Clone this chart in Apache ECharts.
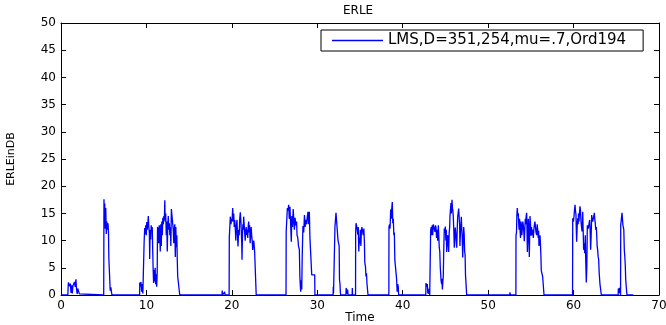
<!DOCTYPE html>
<html><head><meta charset="utf-8">
<script src="https://cdn.jsdelivr.net/npm/echarts@6/dist/echarts.min.js"></script>
<style>html,body{margin:0;padding:0;background:#fff}#c{width:666px;height:325px}</style>
</head><body><div id="c"></div>
<script>
const chartTitle = 'ERLE';
const xName = 'Time';
const yName = 'ERLEinDB';
const seriesName = 'LMS,D=351,254,mu=.7,Ord194';
const xRange = [0, 70, 10];
const yRange = [0, 50, 5];

const times = [
 0,
 0.80,0.86,0.92,0.97,1.03,1.10,1.17,1.25,1.32,1.40,1.48,1.58,1.66,1.75,1.82,1.90,1.96,2.05,2.15,2.30,
 5.00,5.03,5.08,5.12,5.18,5.24,5.30,5.36,5.42,5.50,5.56,5.60,5.72,5.76,5.84,5.92,5.97,
 9.20,9.22,9.30,9.36,9.44,9.50,9.58,9.64,9.72,9.73,9.80,9.86,9.92,9.98,10.04,10.10,10.16,10.22,10.28,10.34,10.38,10.44,10.50,10.56,10.62,10.68,10.74,10.78,10.84,10.90,10.96,11.02,11.08,11.14,11.20,11.26,11.30,11.38,11.44,11.50,11.56,11.62,11.68,11.74,11.80,11.86,11.92,11.98,12.04,12.10,12.15,12.20,12.26,12.32,12.38,12.44,12.50,12.56,12.62,12.68,12.74,12.80,12.86,12.92,12.98,13.04,13.10,13.14,13.20,13.26,13.32,13.38,13.44,13.50,13.56,13.60,13.66,13.85,13.90,
 18.85,18.87,18.92,19.14,19.16,19.20,19.68,19.70,19.78,19.82,19.90,19.96,20.02,20.10,20.16,20.22,20.28,20.34,20.40,20.46,20.52,20.60,20.66,20.72,20.80,20.86,20.92,20.99,21.05,21.10,21.15,21.19,21.24,21.29,21.34,21.38,21.44,21.50,21.56,21.62,21.68,21.74,21.80,21.86,21.92,21.97,22.02,22.08,22.14,22.20,22.26,22.32,22.38,22.44,22.50,22.56,22.62,22.67,22.83,22.85,
 26.34,26.36,26.45,26.50,26.58,26.65,26.72,26.80,26.88,26.96,27.02,27.10,27.18,27.24,27.32,27.40,27.50,27.58,27.63,27.72,27.80,27.90,27.96,28.02,28.06,28.12,28.18,28.24,28.32,28.41,28.50,28.58,28.66,28.75,28.84,28.91,28.98,29.07,29.14,29.25,29.35,29.70,29.72,
 31.85,31.87,31.90,31.95,32.06,32.07,32.15,32.19,32.30,32.39,32.43,32.50,32.56,32.60,32.66,32.70,32.74,
 33.35,33.38,33.45,33.55,33.60,34.08,34.10,34.13,
 34.48,34.49,34.54,34.61,34.68,34.74,34.80,34.86,34.92,34.98,35.04,35.10,35.16,35.22,35.30,35.38,35.45,35.52,35.56,35.64,35.70,35.76,35.82,35.90,35.94,
 38.38,38.39,38.46,38.52,38.59,38.66,38.72,38.78,38.84,38.90,38.96,39.02,39.08,39.20,39.28,39.35,39.42,39.48,39.52,
 42.70,42.72,42.80,42.88,42.94,43.00,43.06,43.11,43.16,43.26,43.27,43.33,43.39,43.45,43.51,43.58,43.66,43.72,43.78,43.84,43.90,43.96,44.02,44.05,44.10,44.17,44.22,44.28,44.34,44.40,44.45,44.50,44.56,44.60,44.64,44.70,44.75,44.80,44.87,44.93,44.99,45.05,45.10,45.15,45.20,45.27,45.32,45.38,45.44,45.50,45.53,45.58,45.65,45.70,45.77,45.82,45.87,45.92,45.98,46.04,46.10,46.15,46.20,46.26,46.32,46.38,46.43,46.50,46.55,46.60,46.66,46.70,46.76,46.82,46.86,46.92,46.97,47.02,47.08,47.14,47.20,47.25,47.30,47.35,47.45,47.49,
 52.54,52.56,52.60,53.25,53.26,53.32,53.36,53.41,53.47,53.53,53.58,53.63,53.68,53.73,53.79,53.85,53.90,53.95,54.00,54.06,54.12,54.18,54.23,54.29,54.35,54.40,54.45,54.51,54.55,54.59,54.64,54.70,54.76,54.82,54.86,54.90,54.96,55.02,55.08,55.12,55.17,55.23,55.29,55.35,55.42,55.48,55.54,55.60,55.68,55.74,55.80,55.86,55.91,55.95,56.01,56.07,56.12,56.18,56.22,56.30,56.38,56.50,56.54,
 59.88,59.90,59.98,60.05,60.10,60.17,60.22,60.28,60.32,60.36,60.42,60.48,60.54,60.58,60.63,60.69,60.75,60.81,60.87,60.93,60.99,61.03,61.07,61.12,61.18,61.24,61.30,61.34,61.37,61.43,61.49,61.55,61.61,61.66,61.72,61.80,61.88,61.94,62.00,62.06,62.12,62.18,62.24,62.31,62.37,62.43,62.48,62.54,62.60,62.66,62.71,62.76,62.82,62.88,62.94,63.00,63.09,63.21,63.25,
 65.22,65.24,65.30,65.36,65.42,65.50,65.51,65.52,65.58,65.63,65.67,65.72,65.78,65.82,65.88,65.94,66.00,66.05,66.10,66.14,66.22,66.25,67.00
];
const erle = [
 0,
 0,2.3,2.4,2.6,1.6,2.1,0.4,1.8,0.3,1.7,2.0,2.4,1.5,2.9,1.0,0.2,1.2,1.0,0.2,0,
 0,17.6,14.5,16.8,12.2,16.0,11.2,13.5,12.0,13.2,11.5,6.8,7.0,0.8,1.4,0.4,0,
 0,2.3,1.6,2.4,0.6,2.0,0.3,0,0,9.7,12.3,11.2,12.8,11.0,13.4,12.0,13.0,14.5,12.5,11.5,6.6,12.0,10.2,12.8,11.8,12.5,8.0,5.0,2.2,4.6,2.5,5.0,2.0,3.8,1.5,4.0,12.5,12.0,9.5,12.8,11.5,8.0,13.0,9.0,13.5,11.0,14.2,13.0,14.5,13.8,17.4,13.5,15.0,11.0,13.5,8.0,12.8,14.5,12.0,13.2,11.0,12.5,9.0,15.8,16.0,15.5,15.8,12.0,9.5,12.2,13.0,7.0,12.5,8.8,11.0,7.2,3.4,3.4,0,
 0,0.8,0,0,0.6,0,0,10.5,10.8,14.4,13.0,14.0,13.5,16.0,13.5,15.0,12.5,13.8,12.3,10.0,12.5,13.8,11.0,8.9,12.0,11.0,14.0,15.2,13.8,14.0,10.0,6.5,11.0,13.0,12.0,14.4,13.0,11.5,10.0,11.8,12.5,11.0,12.0,10.5,12.8,13.5,11.5,12.8,9.5,11.0,12.5,11.0,10.0,8.3,9.2,10.0,9.0,7.8,7.8,0,
 0,11.7,11.7,16.0,15.5,16.6,14.0,16.2,13.0,9.8,14.5,12.5,15.8,16.0,12.0,14.2,12.8,13.5,11.0,10.5,9.0,8.4,3.5,1.5,0.6,2.7,1.0,7.5,12.7,11.5,14.7,12.5,13.8,13.0,14.5,15.3,13.0,15.3,10.5,10.5,3.7,3.7,0,
 0,1.5,0.3,0,0,12.6,12.8,15.1,15.2,14.8,10.0,9.5,9.0,2.8,2.0,0.5,0,
 0,1.3,0.2,1.0,0,0,1.3,0,
 0,11.5,13.2,13.5,12.0,11.1,12.5,8.0,10.5,9.5,12.0,9.0,11.5,12.5,12.7,11.0,12.2,9.5,6.0,5.2,3.4,4.0,2.0,2.0,0,
 0,12.5,13.0,12.2,15.7,14.0,16.0,17.1,13.2,14.0,11.0,11.5,6.4,6.4,3.0,0.6,2.0,1.5,0,
 0,2.2,1.5,2.0,0.3,1.0,0.2,1.2,0,0,11.8,12.5,11.0,12.8,11.0,13.0,13.2,12.0,11.6,12.8,12.4,10.5,12.0,11.5,10.0,12.8,11.0,8.7,8.0,5.0,3.7,2.5,2.0,3.0,1.0,2.5,3.5,8.0,12.2,11.5,12.6,10.0,12.0,7.9,10.0,11.0,9.5,7.9,11.5,12.5,14.4,15.5,16.9,15.0,17.5,16.0,15.5,14.4,12.0,8.7,11.0,12.4,11.5,10.0,8.7,12.0,14.3,14.0,15.9,14.5,13.0,9.0,11.5,13.0,14.4,12.0,10.5,6.9,10.0,12.5,11.0,7.9,7.5,3.7,3.7,0,
 0,0.5,0,0,10.9,11.5,14.5,16.0,14.5,15.0,13.0,12.0,14.0,12.0,10.5,13.5,12.5,11.0,12.3,13.5,12.8,11.5,9.9,12.0,14.0,13.0,14.5,15.1,12.0,7.9,10.0,14.0,12.0,7.0,11.0,14.5,13.0,10.9,12.5,11.0,12.0,11.5,10.5,12.0,13.0,13.5,12.5,11.5,11.0,13.0,12.0,10.5,11.8,9.0,10.0,11.0,9.5,7.0,4.5,4.5,3.4,3.4,0,
 0,14.1,13.5,14.4,15.5,16.6,15.5,14.8,12.0,9.8,12.5,14.1,13.0,15.0,13.5,15.0,16.3,15.5,13.5,12.5,11.7,13.0,15.3,12.0,8.3,9.5,7.7,9.0,11.0,6.0,2.3,5.0,12.8,13.0,12.2,13.0,13.8,12.0,8.3,11.0,14.7,14.0,13.5,14.1,14.5,15.1,14.0,13.2,12.0,12.5,11.0,9.0,8.3,7.0,6.5,4.0,2.0,2.0,0,
 0,1.2,0.4,1.3,1.0,0,0,12.8,13.0,14.5,15.1,14.0,12.8,12.5,12.0,8.3,7.0,5.5,3.0,2.0,2.0,0,0
];

const font = 'DejaVu Sans';
const data = times.map((t, i) => [t, erle[i]]);
const axisCommon = {
  type: 'value',
  axisLine: { show: true, onZero: false, lineStyle: { color: '#000', width: 1 } },
  axisTick: { show: true, inside: true, length: 5, lineStyle: { color: '#000', width: 1 } },
  splitLine: { show: false }
};
const chart = echarts.init(document.getElementById('c'), null, { renderer: 'canvas' });
chart.setOption({
  animation: false,
  backgroundColor: '#fff',
  title: { text: chartTitle, left: 343, top: 5, padding: 0,
    textStyle: { fontFamily: font, fontSize: 12, fontWeight: 'normal', color: '#000' } },
  legend: {
    data: [{ name: seriesName, icon: 'rect' }], left: 321, top: 30,
    borderColor: '#000', borderWidth: 1, padding: [3, 17, 3, 11],
    itemWidth: 51, itemHeight: 1.5, itemGap: 4,
    textStyle: { fontFamily: font, fontSize: 15, color: '#000' }
  },
  grid: { left: 61, right: 7, top: 23, bottom: 30, containLabel: false, outerBoundsMode: 'none' },
  xAxis: [
    Object.assign({}, axisCommon, { min: xRange[0], max: xRange[1], interval: xRange[2], position: 'bottom',
      name: xName, nameLocation: 'middle', nameGap: 17, nameMoveOverlap: false,
      nameTextStyle: { fontFamily: font, fontSize: 12, color: '#000' },
      axisLabel: { color: '#000', fontFamily: font, fontSize: 12, margin: 5 } }),
    Object.assign({}, axisCommon, { min: xRange[0], max: xRange[1], interval: xRange[2], position: 'top',
      axisLabel: { show: false } })
  ],
  yAxis: [
    Object.assign({}, axisCommon, { min: yRange[0], max: yRange[1], interval: yRange[2], position: 'left',
      name: yName, nameLocation: 'middle', nameGap: 44, nameRotate: 90, nameMoveOverlap: false,
      nameTextStyle: { fontFamily: font, fontSize: 11, color: '#000' },
      axisLabel: { color: '#000', fontFamily: font, fontSize: 12, margin: 5 } }),
    Object.assign({}, axisCommon, { min: yRange[0], max: yRange[1], interval: yRange[2], position: 'right',
      axisLabel: { show: false } })
  ],
  series: [{
    name: seriesName, type: 'line', xAxisIndex: 0, yAxisIndex: 0,
    data: data, symbol: 'none', showSymbol: false,
    lineStyle: { color: '#0000ff', width: 1.3 }, itemStyle: { color: '#0000ff' }
  }]
});
</script></body></html>
